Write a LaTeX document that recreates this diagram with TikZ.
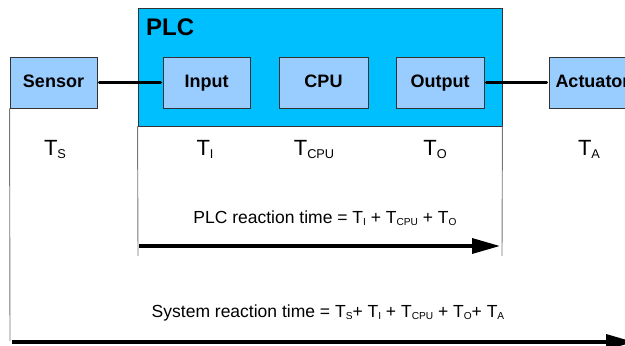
\documentclass[tikz,border=0pt]{standalone}
\usepackage{fontspec}
\setmainfont{Liberation Sans}
\usetikzlibrary{arrows.meta}
\definecolor{plcCyan}{HTML}{00BFFF}
\definecolor{unitBlue}{HTML}{99CCFF}
\definecolor{edgeGray}{HTML}{333333}
\definecolor{rulerGray}{HTML}{777777}
\newcommand{\Tsub}[1]{T\raisebox{-0.15em}{\scalebox{0.58}{#1}}}

\begin{document}
\begin{tikzpicture}[x=1pt,y=-1pt,
  unit/.style={draw=edgeGray,fill=unitBlue,line width=0.9pt,inner sep=0pt,
    minimum width=87pt,minimum height=51pt,text height=13pt,text depth=4pt,
    font=\fontsize{18}{20}\selectfont\bfseries},
  link/.style={line width=3pt,line cap=round,shorten >=2pt,shorten <=2pt},
  ruler/.style={rulerGray,line width=0.9pt},
  span/.style={line width=3.5pt,-{Triangle[length=28pt,width=15pt]}},
  tlabel/.style={anchor=base,font=\fontsize{22}{24}\selectfont},
  sumtext/.style={anchor=base,font=\fontsize{17.5}{19}\selectfont}]
  \useasboundingbox (0,0) rectangle (625,346);

  % PLC frame and its units
  \node[draw=edgeGray,fill=plcCyan,line width=0.9pt,minimum width=364pt,
    minimum height=118pt] (plc) at (320,67) {};
  \node[anchor=base west,inner sep=0pt,font=\fontsize{24}{26}\selectfont\bfseries]
    (plctitle) at (146,35) {PLC};
  \node[unit] (sensor) at (53.5,82.5) {Sensor};
  \node[unit] (input) at (206.5,82.5) {Input};
  \node[unit,minimum width=89pt] (cpu) at (323.5,82.5) {CPU};
  \node[unit,minimum width=88pt] (output) at (440,82.5) {Output};
  \node[unit] (actuator) at (592.5,82.5) {Actuator};
  \draw[link] (sensor) -- (input);
  \draw[link] (output) -- (actuator);

  % time of each stage
  \node[tlabel] (ts) at (55,155) {\Tsub{S}};
  \node[tlabel] (ti) at (205,155) {\Tsub{I}};
  \node[tlabel] (tcpu) at (314,155) {\Tsub{CPU}};
  \node[tlabel] (to) at (435,155) {\Tsub{O}};
  \node[tlabel] (ta) at (589,155) {\Tsub{A}};

  % reaction times
  \coordinate (plcstart) at (139,246);
  \coordinate (plcend) at (500,246);
  \coordinate (sysstart) at (12,342);
  \coordinate (sysend) at (634,342);
  \draw[ruler] (plc.south west) -- (138,256);
  \draw[ruler] (plc.south east) -- (502,256);
  \draw[ruler] (sensor.south west) -- (10,341);
  \node[sumtext] (plcsum) at (325,223)
    {PLC reaction time = \Tsub{I} + \Tsub{CPU} + \Tsub{O}};
  \draw[span] (plcstart) -- (plcend);
  \node[sumtext] (syssum) at (328,317)
    {System reaction time = \Tsub{S}+ \Tsub{I} + \Tsub{CPU} + \Tsub{O}+ \Tsub{A}};
  \draw[span] (sysstart) -- (sysend);
\end{tikzpicture}
\end{document}
